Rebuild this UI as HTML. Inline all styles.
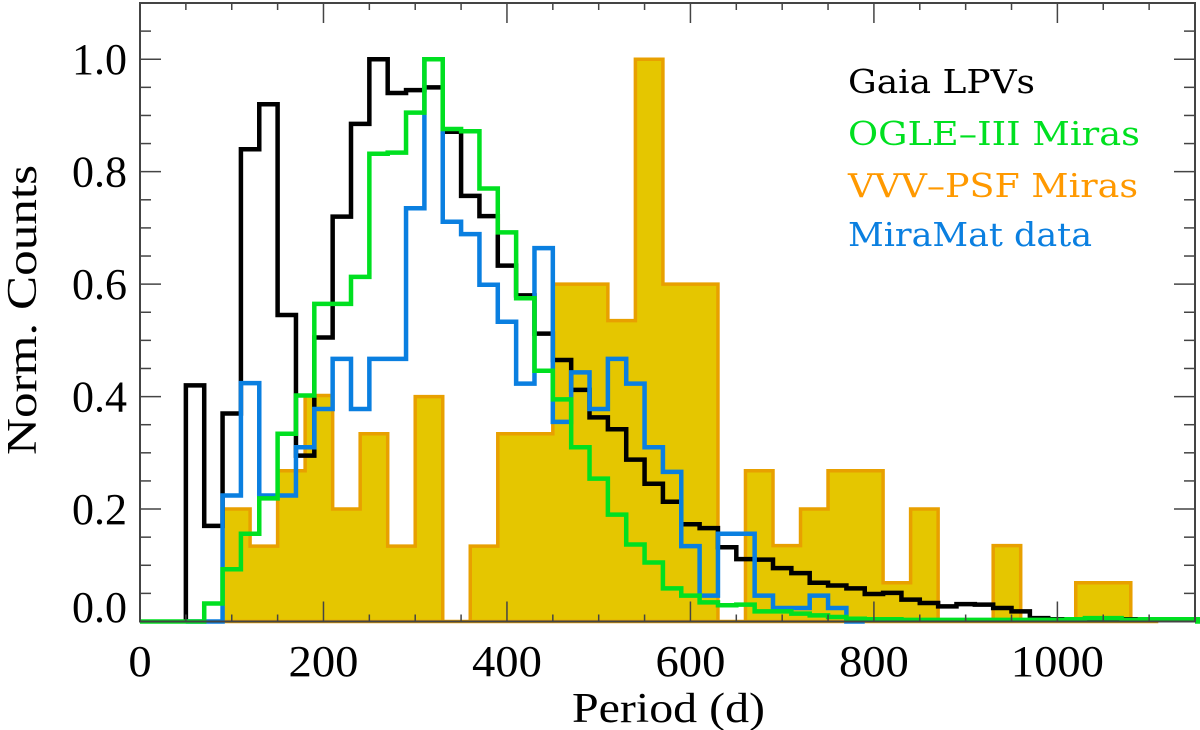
<!DOCTYPE html>
<html><head><meta charset="utf-8"><style>
body{margin:0;background:#fff}
svg{display:block}
</style></head><body>
<svg id="chart" width="1200" height="730" viewBox="0 0 1200 730" xmlns="http://www.w3.org/2000/svg">
<g id="plot"></g>
<g id="axes" font-family="'Liberation Serif', serif"></g>
<g font-family="'DejaVu Serif', 'Liberation Serif', serif" font-size="33">
<text x="848" y="93" fill="#000" textLength="187" lengthAdjust="spacingAndGlyphs">Gaia LPVs</text>
<text x="848" y="145" fill="#00e020" textLength="292" lengthAdjust="spacingAndGlyphs">OGLE–III Miras</text>
<text x="848" y="197" fill="#ff9900" textLength="290" lengthAdjust="spacingAndGlyphs">VVV–PSF Miras</text>
<text x="848" y="246" fill="#0a7fe0" textLength="244" lengthAdjust="spacingAndGlyphs">MiraMat data</text>
</g>
<text font-family="'Liberation Serif', serif" x="572" y="722" font-size="42" textLength="193" lengthAdjust="spacingAndGlyphs">Period (d)</text>
<text font-family="'Liberation Serif', serif" transform="translate(36,455) rotate(-90)" font-size="42" textLength="290" lengthAdjust="spacingAndGlyphs">Norm. Counts</text>
</svg>
<script>
// 20-d bins starting at 50 d
const gaiaStart = 50;
const gaiaValues = [0.42,0.17,0.37,0.84,0.92,0.545,0.295,0.505,0.72,0.885,1.0,0.94,0.945,0.95,0.871,0.757,0.721,0.633,0.58,0.512,0.465,0.412,0.363,0.342,0.288,0.245,0.213,0.173,0.166,0.132,0.111,0.11,0.095,0.086,0.069,0.064,0.059,0.049,0.051,0.039,0.033,0.027,0.031,0.030,0.024,0.018,0.006,0.004,0.004,0.004,0.004,0.004,0.004,0.004,0.004,0.004];
const ogleStart = 50;
const ogleValues = [0,0.032,0.093,0.156,0.219,0.334,0.402,0.565,0.565,0.613,0.832,0.834,0.905,1.0,0.876,0.872,0.770,0.692,0.575,0.446,0.395,0.310,0.254,0.190,0.137,0.105,0.059,0.046,0.034,0.029,0.030,0.018,0.018,0.014,0.011,0.008,0.005,0.004,0.004,0.003,0.003,0.003,0.003,0.003,0.003,0.003,0.003,0.003,0.004,0.006,0.006,0.003,0.004,0.004,0.004,0.004];
const miramatStart = 50;
const miramatValues = [0,0,0.224,0.424,0.224,0.224,0.31,0.378,0.467,0.378,0.467,0.467,0.735,1.0,0.711,0.689,0.599,0.533,0.423,0.664,0.355,0.443,0.378,0.467,0.423,0.31,0.266,0.134,0.046,0.156,0.156,0.046,0.024,0.024,0.046,0.024,0];
// 30-d bins starting at 90 d
const vvvStart = 90;
const vvvValues = [0.2,0.134,0.268,0.402,0.2,0.334,0.134,0.4,0,0.134,0.334,0.334,0.6,0.6,0.535,1.0,0.6,0.6,0,0.268,0.135,0.2,0.268,0.268,0.069,0.2,0,0,0.135,0,0,0.069,0.069,0];
const xTicks = [0,200,400,600,800,1000];
const yTicks = [0.0,0.2,0.4,0.6,0.8,1.0];
const yTickLabels = ["0.0","0.2","0.4","0.6","0.8","1.0"];

const X0=140,X1=1195,Y0=621.5,Y1=3,XMAX=1150,YMAX=1.1;
const xs=d=>X0+(d/XMAX)*(X1-X0);
const ys=v=>Y0-(v/YMAX)*(Y0-Y1);
const NS="http://www.w3.org/2000/svg";
function mk(tag,attrs,parent){const e=document.createElementNS(NS,tag);for(const k in attrs)e.setAttribute(k,attrs[k]);parent.appendChild(e);return e;}
function stepPath(start,w,vals,close){
  let d=`M${xs(start)},${ys(0)}`;
  vals.forEach((v,i)=>{d+=` L${xs(start+i*w)},${ys(v)} L${xs(start+(i+1)*w)},${ys(v)}`;});
  d+=` L${xs(start+vals.length*w)},${ys(0)}`;
  if(close)d+=' Z';
  return d;
}
const plot=document.getElementById('plot');
const vvv=mk('path',{d:stepPath(vvvStart,30,vvvValues,true),fill:'#e5c600',stroke:'#e8a000','stroke-width':3.5},plot);


const gaia=mk('path',{d:stepPath(gaiaStart,20,gaiaValues,false),fill:'none',stroke:'#000','stroke-width':4.5},plot);


const mm=mk('path',{d:stepPath(miramatStart,20,miramatValues,false),fill:'none',stroke:'#0a7fe0','stroke-width':4.5},plot);


const og=mk('path',{d:'M'+xs(0)+','+ys(0)+' L'+xs(ogleStart)+','+ys(0)+stepPath(ogleStart,20,ogleValues,false).replace(/^M[^L]*/,' ')+' L'+X1+','+ys(0),fill:'none',stroke:'#00e020','stroke-width':4.5},plot);



const axes=document.getElementById('axes');
const frame=mk('rect',{x:X0,y:Y1,width:X1-X0,height:Y0-Y1,fill:'none',stroke:'#444','stroke-width':2},axes);


for(let d=0;d<=XMAX;d+=50){
  const major=d%200===0, L=major?20:7;
  mk('line',{x1:xs(d),x2:xs(d),y1:Y0,y2:Y0-L,stroke:'#444','stroke-width':1.5},axes);
  mk('line',{x1:xs(d),x2:xs(d),y1:Y1,y2:Y1+L,stroke:'#444','stroke-width':1.5},axes);
}
for(let i=0;i<=22;i++){
  const v=i*0.05, L=(i%4===0)?21:11;
  mk('line',{x1:X0,x2:X0+L,y1:ys(v),y2:ys(v),stroke:'#444','stroke-width':1.5},axes);
  mk('line',{x1:X1,x2:X1-L,y1:ys(v),y2:ys(v),stroke:'#444','stroke-width':1.5},axes);
}
xTicks.forEach(t=>{
  const s=String(t);
  const w=s.length*23.3;
  const e=mk('text',{x:xs(t)-w/2,y:676,'font-size':44,textLength:w,lengthAdjust:'spacingAndGlyphs'},axes);
  e.textContent=s;
  
  
});
yTicks.forEach((t,i)=>{
  const y=i===0?622:ys(t)+15;
  const e=mk('text',{x:72,y:y,'font-size':44,textLength:55,lengthAdjust:'spacingAndGlyphs'},axes);
  e.textContent=yTickLabels[i];
  
  
});
</script>
</body></html>
